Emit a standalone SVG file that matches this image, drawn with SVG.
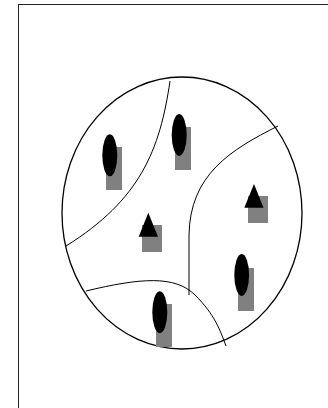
<svg xmlns="http://www.w3.org/2000/svg" width="328" height="408" viewBox="0 0 328 408">
<style>
.frame{fill:none;stroke:#222;stroke-width:1}
.region{fill:none;stroke:#000;stroke-width:1.3}
.edge{fill:none;stroke:#000;stroke-width:1}
.shadow{fill:#808080}
.mark{fill:#000}
</style>
<rect width="328" height="408" fill="#fff"/>
<rect class="frame" x="18.5" y="4.5" width="320" height="420"/>
<g id="circle">
<ellipse class="region" cx="182" cy="213" rx="120" ry="136"/>
</g>
<g id="connectors">
<path class="edge" d="M170,81 C160,150 140,200 66,246"/>
<path class="edge" d="M278,126 C230,150 190,175 189,235 L189,295"/>
<path class="edge" d="M86,291 C140,278 175,275 195,295 S220,330 226,346"/>
</g>
<g id="node-ellipse-1">
<rect class="shadow" x="106" y="147" width="16" height="43"/>
<ellipse class="mark" cx="109.8" cy="155.3" rx="7.5" ry="21"/>
</g>
<g id="node-ellipse-2">
<rect class="shadow" x="175" y="127" width="16" height="43"/>
<ellipse class="mark" cx="179.2" cy="135" rx="7.5" ry="21"/>
</g>
<g id="node-triangle-1">
<rect class="shadow" x="142" y="225" width="20" height="27"/>
<polygon class="mark" points="148.3,212.7 158,236.7 138.7,236.7"/>
</g>
<g id="node-triangle-2">
<rect class="shadow" x="248" y="196" width="20" height="27"/>
<polygon class="mark" points="254,184 263.5,207.7 244.3,207.7"/>
</g>
<g id="node-ellipse-3">
<rect class="shadow" x="238" y="268" width="16" height="43"/>
<ellipse class="mark" cx="241.7" cy="275" rx="7.4" ry="21"/>
</g>
<g id="node-ellipse-4">
<rect class="shadow" x="156" y="304" width="16" height="43"/>
<ellipse class="mark" cx="159.8" cy="312.2" rx="7.5" ry="21"/>
</g>
</svg>
